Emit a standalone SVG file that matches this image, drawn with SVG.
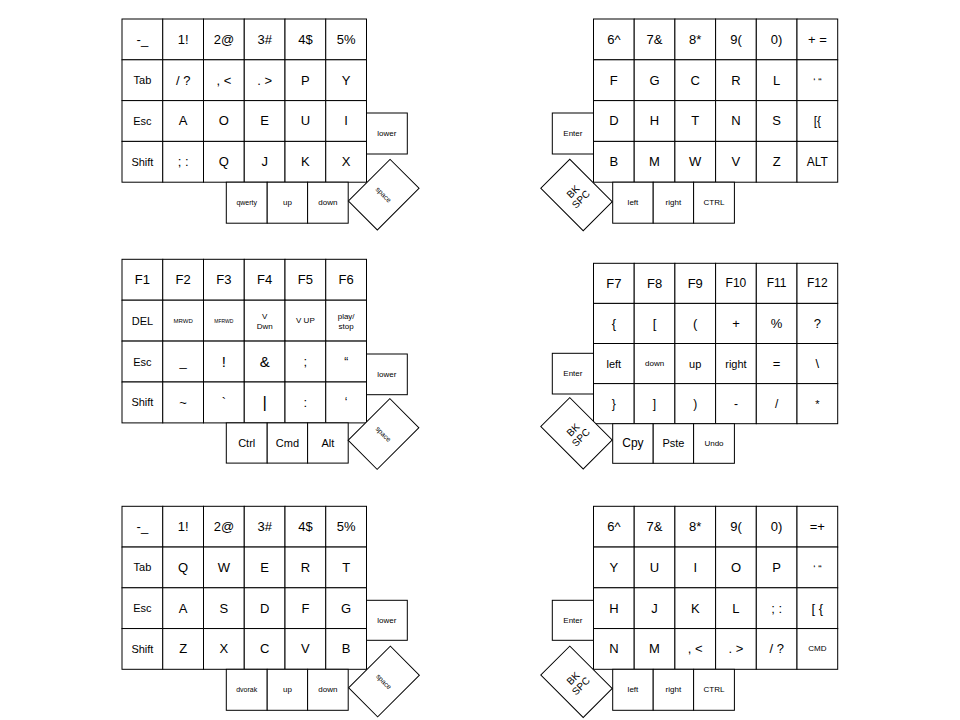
<svg xmlns="http://www.w3.org/2000/svg" width="960" height="720" viewBox="0 0 960 720">
<style>
.key>rect{fill:#fff;stroke:#000;stroke-width:1}
text{font-family:"Liberation Sans",Arial,sans-serif;fill:#000;text-anchor:middle;dominant-baseline:central;font-size:13px}
.m{font-size:11px}
.n{font-size:12px}
.q{font-size:10px}
.s{font-size:8px}
.t{font-size:7px}
.xs{font-size:6px}
.xxs{font-size:5px}
.b{font-size:15px}
.bk{font-size:10px}
</style>
<rect x="0" y="0" width="960" height="720" fill="#fff"/>

<!-- ===== Layer 1 left ===== -->
<g id="layer1-left" transform="translate(122,19)">
<g class="key" id="l1L-r0c0"><rect width="40.75" height="40.8"/><text x="20.4" y="20.4">-_</text></g>
<g class="key" id="l1L-r0c1" transform="translate(40.75,0)"><rect width="40.75" height="40.8"/><text x="20.4" y="20.4">1!</text></g>
<g class="key" id="l1L-r0c2" transform="translate(81.5,0)"><rect width="40.75" height="40.8"/><text x="20.4" y="20.4">2@</text></g>
<g class="key" id="l1L-r0c3" transform="translate(122.25,0)"><rect width="40.75" height="40.8"/><text x="20.4" y="20.4">3#</text></g>
<g class="key" id="l1L-r0c4" transform="translate(163,0)"><rect width="40.75" height="40.8"/><text x="20.4" y="20.4">4$</text></g>
<g class="key" id="l1L-r0c5" transform="translate(203.75,0)"><rect width="40.75" height="40.8"/><text x="20.4" y="20.4">5%</text></g>
<g class="key" id="l1L-r1c0" transform="translate(0,40.8)"><rect width="40.75" height="40.8"/><text class="m" x="20.4" y="20.4">Tab</text></g>
<g class="key" id="l1L-r1c1" transform="translate(40.75,40.8)"><rect width="40.75" height="40.8"/><text x="20.4" y="20.4">/ ?</text></g>
<g class="key" id="l1L-r1c2" transform="translate(81.5,40.8)"><rect width="40.75" height="40.8"/><text x="20.4" y="20.4">, &lt;</text></g>
<g class="key" id="l1L-r1c3" transform="translate(122.25,40.8)"><rect width="40.75" height="40.8"/><text x="20.4" y="20.4">. &gt;</text></g>
<g class="key" id="l1L-r1c4" transform="translate(163,40.8)"><rect width="40.75" height="40.8"/><text x="20.4" y="20.4">P</text></g>
<g class="key" id="l1L-r1c5" transform="translate(203.75,40.8)"><rect width="40.75" height="40.8"/><text x="20.4" y="20.4">Y</text></g>
<g class="key" id="l1L-r2c0" transform="translate(0,81.6)"><rect width="40.75" height="40.8"/><text class="m" x="20.4" y="20.4">Esc</text></g>
<g class="key" id="l1L-r2c1" transform="translate(40.75,81.6)"><rect width="40.75" height="40.8"/><text x="20.4" y="20.4">A</text></g>
<g class="key" id="l1L-r2c2" transform="translate(81.5,81.6)"><rect width="40.75" height="40.8"/><text x="20.4" y="20.4">O</text></g>
<g class="key" id="l1L-r2c3" transform="translate(122.25,81.6)"><rect width="40.75" height="40.8"/><text x="20.4" y="20.4">E</text></g>
<g class="key" id="l1L-r2c4" transform="translate(163,81.6)"><rect width="40.75" height="40.8"/><text x="20.4" y="20.4">U</text></g>
<g class="key" id="l1L-r2c5" transform="translate(203.75,81.6)"><rect width="40.75" height="40.8"/><text x="20.4" y="20.4">I</text></g>
<g class="key" id="l1L-r3c0" transform="translate(0,122.4)"><rect width="40.75" height="40.8"/><text class="m" x="20.4" y="20.4">Shift</text></g>
<g class="key" id="l1L-r3c1" transform="translate(40.75,122.4)"><rect width="40.75" height="40.8"/><text x="20.4" y="20.4">; :</text></g>
<g class="key" id="l1L-r3c2" transform="translate(81.5,122.4)"><rect width="40.75" height="40.8"/><text x="20.4" y="20.4">Q</text></g>
<g class="key" id="l1L-r3c3" transform="translate(122.25,122.4)"><rect width="40.75" height="40.8"/><text x="20.4" y="20.4">J</text></g>
<g class="key" id="l1L-r3c4" transform="translate(163,122.4)"><rect width="40.75" height="40.8"/><text x="20.4" y="20.4">K</text></g>
<g class="key" id="l1L-r3c5" transform="translate(203.75,122.4)"><rect width="40.75" height="40.8"/><text x="20.4" y="20.4">X</text></g>
<g class="key" id="l1L-lower" transform="translate(244.5,94)"><rect width="40.8" height="41"/><text class="s" x="20.4" y="20.5">lower</text></g>
<g class="key" id="l1L-qwerty" transform="translate(104.3,163.2)"><rect width="40.9" height="41"/><text class="t" x="20.4" y="20.5">qwerty</text></g>
<g class="key" id="l1L-up" transform="translate(145.2,163.2)"><rect width="40.4" height="41"/><text class="s" x="20.2" y="20.5">up</text></g>
<g class="key" id="l1L-down" transform="translate(185.6,163.2)"><rect width="40.6" height="41"/><text class="s" x="20.3" y="20.5">down</text></g>
<g class="key" id="l1L-space" transform="translate(261.7,175.7) rotate(45)"><rect x="-20.5" y="-29.5" width="41" height="59"/><text class="t" x="0" y="0">space</text></g>
</g>

<!-- ===== Layer 1 right ===== -->
<g id="layer1-right" transform="translate(593.5,19)">
<g class="key" id="l1R-r0c0"><rect width="40.7" height="40.8"/><text x="20.35" y="20.4">6^</text></g>
<g class="key" id="l1R-r0c1" transform="translate(40.7,0)"><rect width="40.7" height="40.8"/><text x="20.35" y="20.4">7&amp;</text></g>
<g class="key" id="l1R-r0c2" transform="translate(81.4,0)"><rect width="40.7" height="40.8"/><text x="20.35" y="20.4">8*</text></g>
<g class="key" id="l1R-r0c3" transform="translate(122.1,0)"><rect width="40.7" height="40.8"/><text x="20.35" y="20.4">9(</text></g>
<g class="key" id="l1R-r0c4" transform="translate(162.8,0)"><rect width="40.7" height="40.8"/><text x="20.35" y="20.4">0)</text></g>
<g class="key" id="l1R-r0c5" transform="translate(203.5,0)"><rect width="40.7" height="40.8"/><text x="20.35" y="20.4">+ =</text></g>
<g class="key" id="l1R-r1c0" transform="translate(0,40.8)"><rect width="40.7" height="40.8"/><text x="20.35" y="20.4">F</text></g>
<g class="key" id="l1R-r1c1" transform="translate(40.7,40.8)"><rect width="40.7" height="40.8"/><text x="20.35" y="20.4">G</text></g>
<g class="key" id="l1R-r1c2" transform="translate(81.4,40.8)"><rect width="40.7" height="40.8"/><text x="20.35" y="20.4">C</text></g>
<g class="key" id="l1R-r1c3" transform="translate(122.1,40.8)"><rect width="40.7" height="40.8"/><text x="20.35" y="20.4">R</text></g>
<g class="key" id="l1R-r1c4" transform="translate(162.8,40.8)"><rect width="40.7" height="40.8"/><text x="20.35" y="20.4">L</text></g>
<g class="key" id="l1R-r1c5" transform="translate(203.5,40.8)"><rect width="40.7" height="40.8"/><text class="q" x="20.35" y="22.5">‘ “</text></g>
<g class="key" id="l1R-r2c0" transform="translate(0,81.6)"><rect width="40.7" height="40.8"/><text x="20.35" y="20.4">D</text></g>
<g class="key" id="l1R-r2c1" transform="translate(40.7,81.6)"><rect width="40.7" height="40.8"/><text x="20.35" y="20.4">H</text></g>
<g class="key" id="l1R-r2c2" transform="translate(81.4,81.6)"><rect width="40.7" height="40.8"/><text x="20.35" y="20.4">T</text></g>
<g class="key" id="l1R-r2c3" transform="translate(122.1,81.6)"><rect width="40.7" height="40.8"/><text x="20.35" y="20.4">N</text></g>
<g class="key" id="l1R-r2c4" transform="translate(162.8,81.6)"><rect width="40.7" height="40.8"/><text x="20.35" y="20.4">S</text></g>
<g class="key" id="l1R-r2c5" transform="translate(203.5,81.6)"><rect width="40.7" height="40.8"/><text class="n" x="20.35" y="20.4">[{</text></g>
<g class="key" id="l1R-r3c0" transform="translate(0,122.4)"><rect width="40.7" height="40.8"/><text x="20.35" y="20.4">B</text></g>
<g class="key" id="l1R-r3c1" transform="translate(40.7,122.4)"><rect width="40.7" height="40.8"/><text x="20.35" y="20.4">M</text></g>
<g class="key" id="l1R-r3c2" transform="translate(81.4,122.4)"><rect width="40.7" height="40.8"/><text x="20.35" y="20.4">W</text></g>
<g class="key" id="l1R-r3c3" transform="translate(122.1,122.4)"><rect width="40.7" height="40.8"/><text x="20.35" y="20.4">V</text></g>
<g class="key" id="l1R-r3c4" transform="translate(162.8,122.4)"><rect width="40.7" height="40.8"/><text x="20.35" y="20.4">Z</text></g>
<g class="key" id="l1R-r3c5" transform="translate(203.5,122.4)"><rect width="40.7" height="40.8"/><text class="n" x="20.35" y="20.4">ALT</text></g>
<g class="key" id="l1R-enter" transform="translate(-41.2,94)"><rect width="41.2" height="41"/><text class="s" x="20.6" y="20.5">Enter</text></g>
<g class="key" id="l1R-left" transform="translate(19.2,163.2)"><rect width="40.5" height="41"/><text class="s" x="20.25" y="20.5">left</text></g>
<g class="key" id="l1R-right" transform="translate(59.7,163.2)"><rect width="40.4" height="41"/><text class="s" x="20.2" y="20.5">right</text></g>
<g class="key" id="l1R-ctrl" transform="translate(100.1,163.2)"><rect width="40.8" height="41"/><text class="s" x="20.4" y="20.5">CTRL</text></g>
<g class="key" id="l1R-bkspc" transform="translate(-17,176) rotate(-45)"><rect x="-20.5" y="-30" width="41" height="60"/><text class="bk"><tspan x="0" y="-5.5">BK</tspan><tspan x="0" y="5.5">SPC</tspan></text></g>
</g>

<!-- ===== Layer 2 left ===== -->
<g id="layer2-left" transform="translate(122,259.3)">
<g class="key" id="l2L-r0c0"><rect width="40.75" height="40.9"/><text x="20.4" y="20.45">F1</text></g>
<g class="key" id="l2L-r0c1" transform="translate(40.75,0)"><rect width="40.75" height="40.9"/><text x="20.4" y="20.45">F2</text></g>
<g class="key" id="l2L-r0c2" transform="translate(81.5,0)"><rect width="40.75" height="40.9"/><text x="20.4" y="20.45">F3</text></g>
<g class="key" id="l2L-r0c3" transform="translate(122.25,0)"><rect width="40.75" height="40.9"/><text x="20.4" y="20.45">F4</text></g>
<g class="key" id="l2L-r0c4" transform="translate(163,0)"><rect width="40.75" height="40.9"/><text x="20.4" y="20.45">F5</text></g>
<g class="key" id="l2L-r0c5" transform="translate(203.75,0)"><rect width="40.75" height="40.9"/><text x="20.4" y="20.45">F6</text></g>
<g class="key" id="l2L-r1c0" transform="translate(0,40.9)"><rect width="40.75" height="40.9"/><text class="m" x="20.4" y="20.45">DEL</text></g>
<g class="key" id="l2L-r1c1" transform="translate(40.75,40.9)"><rect width="40.75" height="40.9"/><text class="xs" x="20.4" y="20.45">MRWD</text></g>
<g class="key" id="l2L-r1c2" transform="translate(81.5,40.9)"><rect width="40.75" height="40.9"/><text class="xxs" x="20.4" y="20.45">MFRWD</text></g>
<g class="key" id="l2L-r1c3" transform="translate(122.25,40.9)"><rect width="40.75" height="40.9"/><text class="s"><tspan x="20.4" y="15.5">V</tspan><tspan x="20.4" y="25.5">Dwn</tspan></text></g>
<g class="key" id="l2L-r1c4" transform="translate(163,40.9)"><rect width="40.75" height="40.9"/><text class="s" x="20.4" y="20.45">V UP</text></g>
<g class="key" id="l2L-r1c5" transform="translate(203.75,40.9)"><rect width="40.75" height="40.9"/><text class="s"><tspan x="20.4" y="15.5">play/</tspan><tspan x="20.4" y="25.5">stop</tspan></text></g>
<g class="key" id="l2L-r2c0" transform="translate(0,81.8)"><rect width="40.75" height="40.9"/><text class="m" x="20.4" y="20.45">Esc</text></g>
<g class="key" id="l2L-r2c1" transform="translate(40.75,81.8)"><rect width="40.75" height="40.9"/><text x="20.4" y="20.45">_</text></g>
<g class="key" id="l2L-r2c2" transform="translate(81.5,81.8)"><rect width="40.75" height="40.9"/><text class="b" x="20.4" y="20.45">!</text></g>
<g class="key" id="l2L-r2c3" transform="translate(122.25,81.8)"><rect width="40.75" height="40.9"/><text class="b" x="20.4" y="20.45">&amp;</text></g>
<g class="key" id="l2L-r2c4" transform="translate(163,81.8)"><rect width="40.75" height="40.9"/><text x="20.4" y="20.45">;</text></g>
<g class="key" id="l2L-r2c5" transform="translate(203.75,81.8)"><rect width="40.75" height="40.9"/><text class="n" x="20.4" y="20.45">“</text></g>
<g class="key" id="l2L-r3c0" transform="translate(0,122.7)"><rect width="40.75" height="40.9"/><text class="m" x="20.4" y="20.45">Shift</text></g>
<g class="key" id="l2L-r3c1" transform="translate(40.75,122.7)"><rect width="40.75" height="40.9"/><text x="20.4" y="20.45">~</text></g>
<g class="key" id="l2L-r3c2" transform="translate(81.5,122.7)"><rect width="40.75" height="40.9"/><text x="20.4" y="20.45">`</text></g>
<g class="key" id="l2L-r3c3" transform="translate(122.25,122.7)"><rect width="40.75" height="40.9"/><text style="font-size:17px" x="20.4" y="20.45">|</text></g>
<g class="key" id="l2L-r3c4" transform="translate(163,122.7)"><rect width="40.75" height="40.9"/><text x="20.4" y="20.45">:</text></g>
<g class="key" id="l2L-r3c5" transform="translate(203.75,122.7)"><rect width="40.75" height="40.9"/><text class="n" x="20.4" y="20.45">‘</text></g>
<g class="key" id="l2L-lower" transform="translate(244.5,94.7)"><rect width="40.8" height="40.7"/><text class="s" x="20.4" y="20.35">lower</text></g>
<g class="key" id="l2L-ctrl" transform="translate(104.3,163.6)"><rect width="40.9" height="40.2"/><text class="m" x="20.4" y="20.1">Ctrl</text></g>
<g class="key" id="l2L-cmd" transform="translate(145.2,163.6)"><rect width="40.4" height="40.2"/><text class="m" x="20.2" y="20.1">Cmd</text></g>
<g class="key" id="l2L-alt" transform="translate(185.6,163.6)"><rect width="40.6" height="40.2"/><text class="m" x="20.3" y="20.1">Alt</text></g>
<g class="key" id="l2L-space" transform="translate(261.5,174.7) rotate(45)"><rect x="-20.5" y="-29.5" width="41" height="59"/><text class="t" x="0" y="0">space</text></g>
</g>

<!-- ===== Layer 2 right ===== -->
<g id="layer2-right" transform="translate(593.5,263.3)">
<g class="key" id="l2R-r0c0"><rect width="40.7" height="40.1"/><text x="20.35" y="20.05">F7</text></g>
<g class="key" id="l2R-r0c1" transform="translate(40.7,0)"><rect width="40.7" height="40.1"/><text x="20.35" y="20.05">F8</text></g>
<g class="key" id="l2R-r0c2" transform="translate(81.4,0)"><rect width="40.7" height="40.1"/><text x="20.35" y="20.05">F9</text></g>
<g class="key" id="l2R-r0c3" transform="translate(122.1,0)"><rect width="40.7" height="40.1"/><text class="n" x="20.35" y="20.05">F10</text></g>
<g class="key" id="l2R-r0c4" transform="translate(162.8,0)"><rect width="40.7" height="40.1"/><text class="n" x="20.35" y="20.05">F11</text></g>
<g class="key" id="l2R-r0c5" transform="translate(203.5,0)"><rect width="40.7" height="40.1"/><text class="n" x="20.35" y="20.05">F12</text></g>
<g class="key" id="l2R-r1c0" transform="translate(0,40.1)"><rect width="40.7" height="40.1"/><text x="20.35" y="20.05">{</text></g>
<g class="key" id="l2R-r1c1" transform="translate(40.7,40.1)"><rect width="40.7" height="40.1"/><text x="20.35" y="20.05">[</text></g>
<g class="key" id="l2R-r1c2" transform="translate(81.4,40.1)"><rect width="40.7" height="40.1"/><text x="20.35" y="20.05">(</text></g>
<g class="key" id="l2R-r1c3" transform="translate(122.1,40.1)"><rect width="40.7" height="40.1"/><text x="20.35" y="20.05">+</text></g>
<g class="key" id="l2R-r1c4" transform="translate(162.8,40.1)"><rect width="40.7" height="40.1"/><text x="20.35" y="20.05">%</text></g>
<g class="key" id="l2R-r1c5" transform="translate(203.5,40.1)"><rect width="40.7" height="40.1"/><text x="20.35" y="20.05">?</text></g>
<g class="key" id="l2R-r2c0" transform="translate(0,80.2)"><rect width="40.7" height="40.1"/><text class="m" x="20.35" y="20.05">left</text></g>
<g class="key" id="l2R-r2c1" transform="translate(40.7,80.2)"><rect width="40.7" height="40.1"/><text class="s" x="20.35" y="20.05">down</text></g>
<g class="key" id="l2R-r2c2" transform="translate(81.4,80.2)"><rect width="40.7" height="40.1"/><text class="m" x="20.35" y="20.05">up</text></g>
<g class="key" id="l2R-r2c3" transform="translate(122.1,80.2)"><rect width="40.7" height="40.1"/><text class="m" x="20.35" y="20.05">right</text></g>
<g class="key" id="l2R-r2c4" transform="translate(162.8,80.2)"><rect width="40.7" height="40.1"/><text x="20.35" y="20.05">=</text></g>
<g class="key" id="l2R-r2c5" transform="translate(203.5,80.2)"><rect width="40.7" height="40.1"/><text x="20.35" y="20.05">\</text></g>
<g class="key" id="l2R-r3c0" transform="translate(0,120.3)"><rect width="40.7" height="40.1"/><text class="n" x="20.35" y="20.05">}</text></g>
<g class="key" id="l2R-r3c1" transform="translate(40.7,120.3)"><rect width="40.7" height="40.1"/><text class="n" x="20.35" y="20.05">]</text></g>
<g class="key" id="l2R-r3c2" transform="translate(81.4,120.3)"><rect width="40.7" height="40.1"/><text class="n" x="20.35" y="20.05">)</text></g>
<g class="key" id="l2R-r3c3" transform="translate(122.1,120.3)"><rect width="40.7" height="40.1"/><text class="n" x="20.35" y="20.05">-</text></g>
<g class="key" id="l2R-r3c4" transform="translate(162.8,120.3)"><rect width="40.7" height="40.1"/><text class="n" x="20.35" y="20.05">/</text></g>
<g class="key" id="l2R-r3c5" transform="translate(203.5,120.3)"><rect width="40.7" height="40.1"/><text class="m" x="20.35" y="20.05">*</text></g>
<g class="key" id="l2R-enter" transform="translate(-41.2,90)"><rect width="41.2" height="40.7"/><text class="s" x="20.6" y="20.35">Enter</text></g>
<g class="key" id="l2R-cpy" transform="translate(19.2,160.4)"><rect width="40.5" height="39.6"/><text class="n" x="20.25" y="19.8">Cpy</text></g>
<g class="key" id="l2R-pste" transform="translate(59.7,160.4)"><rect width="40.4" height="39.6"/><text class="m" x="20.2" y="19.8">Pste</text></g>
<g class="key" id="l2R-undo" transform="translate(100.1,160.4)"><rect width="40.8" height="39.6"/><text class="s" x="20.4" y="19.8">Undo</text></g>
<g class="key" id="l2R-bkspc" transform="translate(-17,170) rotate(-45)"><rect x="-20.5" y="-30" width="41" height="60"/><text class="bk"><tspan x="0" y="-5.5">BK</tspan><tspan x="0" y="5.5">SPC</tspan></text></g>
</g>

<!-- ===== Layer 3 left ===== -->
<g id="layer3-left" transform="translate(122,506.3)">
<g class="key" id="l3L-r0c0"><rect width="40.75" height="40.75"/><text x="20.4" y="20.4">-_</text></g>
<g class="key" id="l3L-r0c1" transform="translate(40.75,0)"><rect width="40.75" height="40.75"/><text x="20.4" y="20.4">1!</text></g>
<g class="key" id="l3L-r0c2" transform="translate(81.5,0)"><rect width="40.75" height="40.75"/><text x="20.4" y="20.4">2@</text></g>
<g class="key" id="l3L-r0c3" transform="translate(122.25,0)"><rect width="40.75" height="40.75"/><text x="20.4" y="20.4">3#</text></g>
<g class="key" id="l3L-r0c4" transform="translate(163,0)"><rect width="40.75" height="40.75"/><text x="20.4" y="20.4">4$</text></g>
<g class="key" id="l3L-r0c5" transform="translate(203.75,0)"><rect width="40.75" height="40.75"/><text x="20.4" y="20.4">5%</text></g>
<g class="key" id="l3L-r1c0" transform="translate(0,40.75)"><rect width="40.75" height="40.75"/><text class="m" x="20.4" y="20.4">Tab</text></g>
<g class="key" id="l3L-r1c1" transform="translate(40.75,40.75)"><rect width="40.75" height="40.75"/><text x="20.4" y="20.4">Q</text></g>
<g class="key" id="l3L-r1c2" transform="translate(81.5,40.75)"><rect width="40.75" height="40.75"/><text x="20.4" y="20.4">W</text></g>
<g class="key" id="l3L-r1c3" transform="translate(122.25,40.75)"><rect width="40.75" height="40.75"/><text x="20.4" y="20.4">E</text></g>
<g class="key" id="l3L-r1c4" transform="translate(163,40.75)"><rect width="40.75" height="40.75"/><text x="20.4" y="20.4">R</text></g>
<g class="key" id="l3L-r1c5" transform="translate(203.75,40.75)"><rect width="40.75" height="40.75"/><text x="20.4" y="20.4">T</text></g>
<g class="key" id="l3L-r2c0" transform="translate(0,81.5)"><rect width="40.75" height="40.75"/><text class="m" x="20.4" y="20.4">Esc</text></g>
<g class="key" id="l3L-r2c1" transform="translate(40.75,81.5)"><rect width="40.75" height="40.75"/><text x="20.4" y="20.4">A</text></g>
<g class="key" id="l3L-r2c2" transform="translate(81.5,81.5)"><rect width="40.75" height="40.75"/><text x="20.4" y="20.4">S</text></g>
<g class="key" id="l3L-r2c3" transform="translate(122.25,81.5)"><rect width="40.75" height="40.75"/><text x="20.4" y="20.4">D</text></g>
<g class="key" id="l3L-r2c4" transform="translate(163,81.5)"><rect width="40.75" height="40.75"/><text x="20.4" y="20.4">F</text></g>
<g class="key" id="l3L-r2c5" transform="translate(203.75,81.5)"><rect width="40.75" height="40.75"/><text x="20.4" y="20.4">G</text></g>
<g class="key" id="l3L-r3c0" transform="translate(0,122.25)"><rect width="40.75" height="40.75"/><text class="m" x="20.4" y="20.4">Shift</text></g>
<g class="key" id="l3L-r3c1" transform="translate(40.75,122.25)"><rect width="40.75" height="40.75"/><text x="20.4" y="20.4">Z</text></g>
<g class="key" id="l3L-r3c2" transform="translate(81.5,122.25)"><rect width="40.75" height="40.75"/><text x="20.4" y="20.4">X</text></g>
<g class="key" id="l3L-r3c3" transform="translate(122.25,122.25)"><rect width="40.75" height="40.75"/><text x="20.4" y="20.4">C</text></g>
<g class="key" id="l3L-r3c4" transform="translate(163,122.25)"><rect width="40.75" height="40.75"/><text x="20.4" y="20.4">V</text></g>
<g class="key" id="l3L-r3c5" transform="translate(203.75,122.25)"><rect width="40.75" height="40.75"/><text x="20.4" y="20.4">B</text></g>
<g class="key" id="l3L-lower" transform="translate(244.5,94)"><rect width="40.8" height="40"/><text class="s" x="20.4" y="20">lower</text></g>
<g class="key" id="l3L-dvorak" transform="translate(104.3,163)"><rect width="40.9" height="41"/><text class="t" x="20.4" y="20.5">dvorak</text></g>
<g class="key" id="l3L-up" transform="translate(145.2,163)"><rect width="40.4" height="41"/><text class="s" x="20.2" y="20.5">up</text></g>
<g class="key" id="l3L-down" transform="translate(185.6,163)"><rect width="40.6" height="41"/><text class="s" x="20.3" y="20.5">down</text></g>
<g class="key" id="l3L-space" transform="translate(262,175.2) rotate(45)"><rect x="-20.5" y="-29.5" width="41" height="59"/><text class="t" x="0" y="0">space</text></g>
</g>

<!-- ===== Layer 3 right ===== -->
<g id="layer3-right" transform="translate(593.5,506.3)">
<g class="key" id="l3R-r0c0"><rect width="40.7" height="40.75"/><text x="20.35" y="20.4">6^</text></g>
<g class="key" id="l3R-r0c1" transform="translate(40.7,0)"><rect width="40.7" height="40.75"/><text x="20.35" y="20.4">7&amp;</text></g>
<g class="key" id="l3R-r0c2" transform="translate(81.4,0)"><rect width="40.7" height="40.75"/><text x="20.35" y="20.4">8*</text></g>
<g class="key" id="l3R-r0c3" transform="translate(122.1,0)"><rect width="40.7" height="40.75"/><text x="20.35" y="20.4">9(</text></g>
<g class="key" id="l3R-r0c4" transform="translate(162.8,0)"><rect width="40.7" height="40.75"/><text x="20.35" y="20.4">0)</text></g>
<g class="key" id="l3R-r0c5" transform="translate(203.5,0)"><rect width="40.7" height="40.75"/><text x="20.35" y="20.4">=+</text></g>
<g class="key" id="l3R-r1c0" transform="translate(0,40.75)"><rect width="40.7" height="40.75"/><text x="20.35" y="20.4">Y</text></g>
<g class="key" id="l3R-r1c1" transform="translate(40.7,40.75)"><rect width="40.7" height="40.75"/><text x="20.35" y="20.4">U</text></g>
<g class="key" id="l3R-r1c2" transform="translate(81.4,40.75)"><rect width="40.7" height="40.75"/><text x="20.35" y="20.4">I</text></g>
<g class="key" id="l3R-r1c3" transform="translate(122.1,40.75)"><rect width="40.7" height="40.75"/><text x="20.35" y="20.4">O</text></g>
<g class="key" id="l3R-r1c4" transform="translate(162.8,40.75)"><rect width="40.7" height="40.75"/><text x="20.35" y="20.4">P</text></g>
<g class="key" id="l3R-r1c5" transform="translate(203.5,40.75)"><rect width="40.7" height="40.75"/><text class="q" x="20.35" y="22.5">‘ “</text></g>
<g class="key" id="l3R-r2c0" transform="translate(0,81.5)"><rect width="40.7" height="40.75"/><text x="20.35" y="20.4">H</text></g>
<g class="key" id="l3R-r2c1" transform="translate(40.7,81.5)"><rect width="40.7" height="40.75"/><text x="20.35" y="20.4">J</text></g>
<g class="key" id="l3R-r2c2" transform="translate(81.4,81.5)"><rect width="40.7" height="40.75"/><text x="20.35" y="20.4">K</text></g>
<g class="key" id="l3R-r2c3" transform="translate(122.1,81.5)"><rect width="40.7" height="40.75"/><text x="20.35" y="20.4">L</text></g>
<g class="key" id="l3R-r2c4" transform="translate(162.8,81.5)"><rect width="40.7" height="40.75"/><text x="20.35" y="20.4">; :</text></g>
<g class="key" id="l3R-r2c5" transform="translate(203.5,81.5)"><rect width="40.7" height="40.75"/><text x="20.35" y="20.4">[ {</text></g>
<g class="key" id="l3R-r3c0" transform="translate(0,122.25)"><rect width="40.7" height="40.75"/><text x="20.35" y="20.4">N</text></g>
<g class="key" id="l3R-r3c1" transform="translate(40.7,122.25)"><rect width="40.7" height="40.75"/><text x="20.35" y="20.4">M</text></g>
<g class="key" id="l3R-r3c2" transform="translate(81.4,122.25)"><rect width="40.7" height="40.75"/><text x="20.35" y="20.4">, &lt;</text></g>
<g class="key" id="l3R-r3c3" transform="translate(122.1,122.25)"><rect width="40.7" height="40.75"/><text x="20.35" y="20.4">. &gt;</text></g>
<g class="key" id="l3R-r3c4" transform="translate(162.8,122.25)"><rect width="40.7" height="40.75"/><text x="20.35" y="20.4">/ ?</text></g>
<g class="key" id="l3R-r3c5" transform="translate(203.5,122.25)"><rect width="40.7" height="40.75"/><text class="s" x="20.35" y="20.4">CMD</text></g>
<g class="key" id="l3R-enter" transform="translate(-41.2,94)"><rect width="41.2" height="40"/><text class="s" x="20.6" y="20">Enter</text></g>
<g class="key" id="l3R-left" transform="translate(19.2,163)"><rect width="40.5" height="41"/><text class="s" x="20.25" y="20.5">left</text></g>
<g class="key" id="l3R-right" transform="translate(59.7,163)"><rect width="40.4" height="41"/><text class="s" x="20.2" y="20.5">right</text></g>
<g class="key" id="l3R-ctrl" transform="translate(100.1,163)"><rect width="40.8" height="41"/><text class="s" x="20.4" y="20.5">CTRL</text></g>
<g class="key" id="l3R-bkspc" transform="translate(-17,175.5) rotate(-45)"><rect x="-20.5" y="-30" width="41" height="60"/><text class="bk"><tspan x="0" y="-5.5">BK</tspan><tspan x="0" y="5.5">SPC</tspan></text></g>
</g>
</svg>
